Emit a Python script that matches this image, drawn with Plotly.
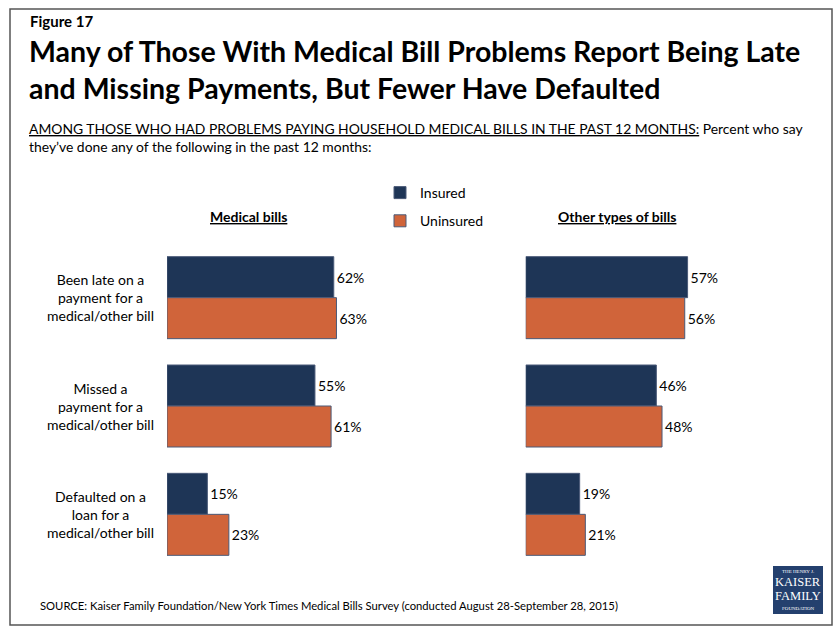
import plotly.graph_objects as go

categories = ["Been late on a<br>payment for a<br>medical/other bill",
              "Missed a<br>payment for a<br>medical/other bill",
              "Defaulted on a<br>loan for a<br>medical/other bill"]
medical_insured = [62, 55, 15]
medical_uninsured = [63, 61, 23]
other_insured = [57, 46, 19]
other_uninsured = [56, 48, 21]
series_names = ["Insured", "Uninsured"]
panel_titles = ["Medical bills", "Other types of bills"]

W, H = 840, 637
NAVY = "#1E3556"
ORANGE = "#D0643A"
OUTLINE = "#4A5A78"
FONT = "Lato"

def px(x):
    return x / W

def py(y):
    return 1 - y / H

fig = go.Figure()

def add_bar(vals, name, color, xaxis, yaxis, show, group):
    fig.add_trace(go.Bar(
        y=categories, x=vals, name=name, orientation="h",
        marker=dict(color=color, line=dict(color=OUTLINE, width=1)),
        texttemplate="%{x}%", textposition="outside", cliponaxis=False,
        textfont=dict(size=14, color="black", family=FONT),
        xaxis=xaxis, yaxis=yaxis, showlegend=show, legendgroup=group,
    ))

add_bar(medical_insured, series_names[0], NAVY, "x", "y", True, "a")
add_bar(medical_uninsured, series_names[1], ORANGE, "x", "y", True, "b")
add_bar(other_insured, series_names[0], NAVY, "x2", "y2", False, "a")
add_bar(other_uninsured, series_names[1], ORANGE, "x2", "y2", False, "b")

ydom = [py(568.5), py(243.5)]
axis_common = dict(showgrid=False, zeroline=False, showticklabels=False, showline=False, ticks="")

annotations = []
annotations.append(dict(text="<b>Figure 17</b>", x=px(28), y=py(21), xref="paper", yref="paper",
                        xanchor="left", yanchor="middle", showarrow=False,
                        font=dict(size=15, family=FONT, color="black")))
annotations.append(dict(text="<b>Many of Those With Medical Bill Problems Report Being Late<br>and Missing Payments, But Fewer Have Defaulted</b>",
                        x=px(27), y=py(69), xref="paper", yref="paper", align="left",
                        xanchor="left", yanchor="middle", showarrow=False,
                        font=dict(size=28.5, family=FONT, color="black")))
annotations.append(dict(text="<u>AMONG THOSE WHO HAD PROBLEMS PAYING HOUSEHOLD MEDICAL BILLS IN THE PAST 12 MONTHS:</u> Percent who say<br>they\u2019ve done any of the following in the past 12 months:",
                        x=px(27), y=py(138), xref="paper", yref="paper", align="left",
                        xanchor="left", yanchor="middle", showarrow=False,
                        font=dict(size=13.9, family=FONT, color="black")))
annotations.append(dict(text="<b><u>" + panel_titles[0] + "</u></b>", x=px(248), y=py(216),
                        xref="paper", yref="paper", xanchor="center", yanchor="middle",
                        showarrow=False, font=dict(size=14, family=FONT, color="black")))
annotations.append(dict(text="<b><u>" + panel_titles[1] + "</u></b>", x=px(617), y=py(216),
                        xref="paper", yref="paper", xanchor="center", yanchor="middle",
                        showarrow=False, font=dict(size=14, family=FONT, color="black")))
for c in categories:
    annotations.append(dict(text=c, x=px(100), y=c, xref="paper", yref="y",
                            xanchor="center", yanchor="middle", showarrow=False, align="center",
                            font=dict(size=14, family=FONT, color="black")))
annotations.append(dict(text="SOURCE: Kaiser Family Foundation/New York Times Medical Bills Survey (conducted August 28-September 28, 2015)",
                        x=px(38), y=py(605), xref="paper", yref="paper", xanchor="left", yanchor="middle",
                        showarrow=False, font=dict(size=11.25, family=FONT, color="black")))
logo_lines = [("THE HENRY J.", 5, 571.5), ("KAISER", 12.5, 582), ("FAMILY", 12.5, 596), ("FOUNDATION", 5, 608.5)]
for t, s, yy in logo_lines:
    annotations.append(dict(text=t, x=px(798), y=py(yy), xref="paper", yref="paper",
                            xanchor="center", yanchor="middle", showarrow=False,
                            font=dict(size=s, family="Liberation Serif", color="white")))

shapes = [
    dict(type="rect", xref="paper", yref="paper", x0=px(10), x1=px(832), y0=py(625), y1=py(9),
         line=dict(color="#555555", width=1.5), fillcolor="rgba(0,0,0,0)", layer="below"),
    dict(type="rect", xref="paper", yref="paper", x0=px(773), x1=px(823), y0=py(614), y1=py(566),
         line=dict(width=0), fillcolor="#24406E", layer="below"),
]

fig.update_layout(
    width=W, height=H,
    margin=dict(l=0, r=0, t=0, b=0),
    paper_bgcolor="white", plot_bgcolor="white",
    barmode="group", bargap=0.243, bargroupgap=0,
    font=dict(family=FONT, size=14, color="black"),
    xaxis=dict(domain=[px(167), px(436)], range=[0, 100], **axis_common),
    xaxis2=dict(domain=[px(525.7), px(809.7)], range=[0, 100], anchor="y2", **axis_common),
    yaxis=dict(domain=ydom, range=[2.5, -0.5], anchor="x", **axis_common),
    yaxis2=dict(domain=ydom, range=[2.5, -0.5], anchor="x2", **axis_common),
    legend=dict(x=px(380), y=py(177), xanchor="left", yanchor="top",
                font=dict(size=14, family=FONT), tracegroupgap=7, itemwidth=30,
                bgcolor="rgba(0,0,0,0)"),
    annotations=annotations,
    shapes=shapes,
)

fig.write_html("out.html", config={"displayModeBar": False},
               post_script="document.body.style.margin='0';")
